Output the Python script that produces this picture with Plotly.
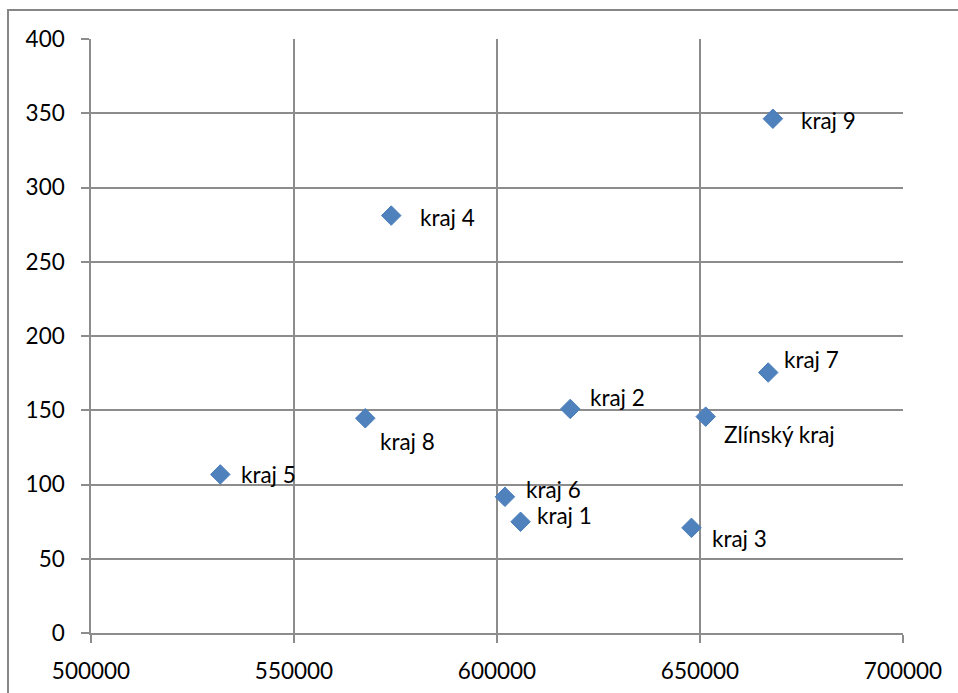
import plotly.graph_objects as go

# Regions: x = first indicator, y = second indicator
regions = ["kraj 1", "kraj 2", "kraj 3", "kraj 4", "kraj 5",
           "kraj 6", "kraj 7", "kraj 8", "kraj 9", "Zlínský kraj"]
x_vals = [605800, 618050, 647900, 573950, 531850,
          601950, 666800, 567550, 667950, 651400]
y_vals = [74.9, 150.9, 70.8, 281.1, 106.8,
          91.7, 175.4, 144.6, 346.3, 145.7]

# label offsets in pixels (dx, dy; dy positive = up)
label_offsets = {
    "kraj 1": (14, 6), "kraj 2": (18, 11), "kraj 3": (19, -11),
    "kraj 4": (27, -2), "kraj 5": (19, 0), "kraj 6": (19, 7),
    "kraj 7": (14, 13), "kraj 8": (13, -23), "kraj 9": (26, -2),
    "Zlínský kraj": (16, -18),
}

x_ticks = [500000, 550000, 600000, 650000, 700000]
y_ticks = [0, 50, 100, 150, 200, 250, 300, 350, 400]

FONT = "Lato"
GRID = "#8c8c8c"

fig = go.Figure()
fig.add_trace(go.Scatter(
    x=x_vals, y=y_vals, mode="markers",
    marker=dict(symbol="diamond", size=15, color="#4f81bd",
                line=dict(color="#4a7ebb", width=1)),
    hoverinfo="skip", showlegend=False,
))

for name, xv, yv in zip(regions, x_vals, y_vals):
    dx, dy = label_offsets[name]
    fig.add_annotation(x=xv, y=yv, text=name, showarrow=False,
                       xanchor="left", yanchor="middle",
                       xshift=dx, yshift=dy,
                       font=dict(family=FONT, size=22.5, color="black"))

axis_common = dict(
    showgrid=True, gridcolor=GRID, gridwidth=1.5,
    showline=True, linecolor=GRID, linewidth=1.5,
    ticks="outside", ticklen=8, tickcolor=GRID, tickwidth=1.5,
    tickfont=dict(family=FONT, size=22.5, color="black"),
    zeroline=False, fixedrange=True, automargin=False,
)

fig.update_xaxes(range=[500000, 700000], tickvals=x_ticks,
                 ticktext=[str(v) for v in x_ticks],
                 ticklabelstandoff=9, **axis_common)
fig.update_yaxes(range=[0, 400], tickvals=y_ticks,
                 ticktext=[str(v) for v in y_ticks],
                 ticklabelstandoff=12, **axis_common)

# outer chart frame
fig.add_shape(type="rect", xref="paper", yref="paper",
              x0=-0.1022, x1=1.2, y0=-0.3, y1=1.0488,
              line=dict(color="#868686", width=2), layer="below")

fig.update_layout(
    width=958, height=693,
    margin=dict(l=91, r=55, t=39, b=60),
    paper_bgcolor="white", plot_bgcolor="white",
    font=dict(family=FONT, color="black"),
)

fig.write_html("out.html", config={"displayModeBar": False})
